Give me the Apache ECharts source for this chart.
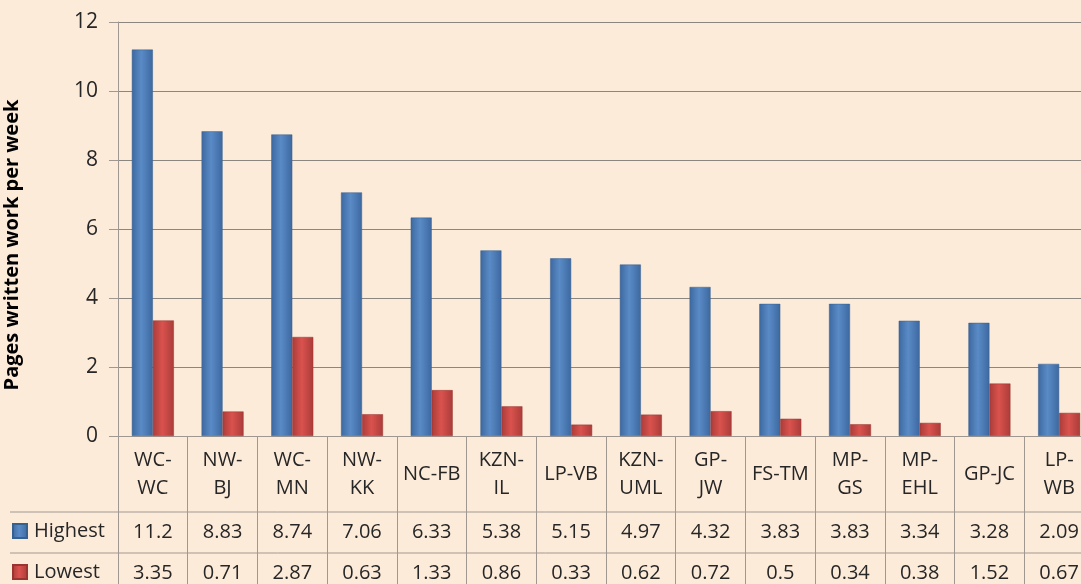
<!DOCTYPE html>
<html>
<head>
<meta charset="utf-8">
<script src="https://cdn.jsdelivr.net/npm/echarts@6/dist/echarts.min.js"></script>
<style>
  html, body { margin: 0; padding: 0; background: #fdebda; }
  #main { width: 1081px; height: 584px; }
</style>
</head>
<body>
<div id="main"></div>
<script>
const categories = ['WC-\nWC', 'NW-\nBJ', 'WC-\nMN', 'NW-\nKK', 'NC-FB', 'KZN-\nIL', 'LP-VB', 'KZN-\nUML', 'GP-\nJW', 'FS-TM', 'MP-\nGS', 'MP-\nEHL', 'GP-JC', 'LP-\nWB']
const highest = [11.2, 8.83, 8.74, 7.06, 6.33, 5.38, 5.15, 4.97, 4.32, 3.83, 3.83, 3.34, 3.28, 2.09]
const lowest = [3.35, 0.71, 2.87, 0.63, 1.33, 0.86, 0.33, 0.62, 0.72, 0.5, 0.34, 0.38, 1.52, 0.67]
const yTicks = { min: 0, max: 12, interval: 2 }

const font = 'Open Sans'
const tableLine = '#a09890'

// 柱子的渐变色（模拟圆柱效果）
function barGradient(edge, mid) {
  return new echarts.graphic.LinearGradient(0, 0, 1, 0, [
    { offset: 0, color: edge },
    { offset: 0.45, color: mid },
    { offset: 1, color: edge }
  ])
}

const myChart = echarts.init(document.getElementById('main'))

const labelBase = { fontFamily: font, fontSize: 20, color: '#262626', verticalAlign: 'middle', interval: 0 }

// 表格左侧的图例，每行一个
function rowLegend(name, top) {
  return {
    left: 12,
    top: top,
    padding: 0,
    itemWidth: 14,
    itemHeight: 14,
    itemGap: 0,
    icon: 'rect',
    textStyle: { fontFamily: font, fontSize: 20, color: '#262626', padding: [0, 0, 0, 2] },
    data: [name]
  }
}

myChart.setOption({
  backgroundColor: '#fdebda',
  animation: false,
  grid: { left: 118, top: 22, width: 976, height: 414, outerBoundsMode: 'none' },
  legend: [rowLegend('Highest', 521), rowLegend('Lowest', 562)],
  xAxis: [
    {
      type: 'category',
      position: 'bottom',
      data: categories,
      axisLine: { lineStyle: { color: tableLine } },
      axisTick: { show: true, length: 150, lineStyle: { color: tableLine } },
      axisLabel: Object.assign({ margin: 38, lineHeight: 28 }, labelBase)
    },
    {
      type: 'category',
      position: 'bottom',
      data: categories,
      axisLine: { show: false },
      axisTick: { show: false },
      axisLabel: Object.assign({ margin: 96, formatter: (v, i) => String(highest[i]) }, labelBase)
    },
    {
      type: 'category',
      position: 'bottom',
      data: categories,
      axisLine: { show: false },
      axisTick: { show: false },
      axisLabel: Object.assign({ margin: 137, formatter: (v, i) => String(lowest[i]) }, labelBase)
    }
  ],
  yAxis: {
    type: 'value',
    min: yTicks.min,
    max: yTicks.max,
    interval: yTicks.interval,
    name: 'Pages written work per week',
    nameLocation: 'middle',
    nameGap: 96,
    nameTextStyle: { fontFamily: font, fontSize: 20, fontWeight: 'bold', color: '#000', padding: [0, 32, 0, 0] },
    axisLine: { show: true, lineStyle: { color: tableLine } },
    axisTick: { show: true, length: 9, lineStyle: { color: tableLine } },
    axisLabel: { fontFamily: font, fontSize: 21, color: '#262626', margin: 20 },
    splitLine: { lineStyle: { color: '#8c8680' } }
  },
  series: [
    {
      name: 'Highest',
      type: 'bar',
      data: highest,
      barWidth: 21,
      barGap: '0%',
      itemStyle: { color: barGradient('#3d68a0', '#5a8bc6'), borderColor: '#36608f', borderWidth: 0.5 }
    },
    {
      name: 'Lowest',
      type: 'bar',
      data: lowest,
      barWidth: 21,
      barGap: '0%',
      itemStyle: { color: barGradient('#aa3c39', '#da524e'), borderColor: '#9a3431', borderWidth: 0.5 }
    }
  ],
  graphic: [
    { type: 'line', shape: { x1: 10, y1: 512, x2: 1081, y2: 512 }, style: { stroke: tableLine, lineWidth: 1 } },
    { type: 'line', shape: { x1: 10, y1: 553, x2: 1081, y2: 553 }, style: { stroke: tableLine, lineWidth: 1 } }
  ]
})
</script>
</body>
</html>
